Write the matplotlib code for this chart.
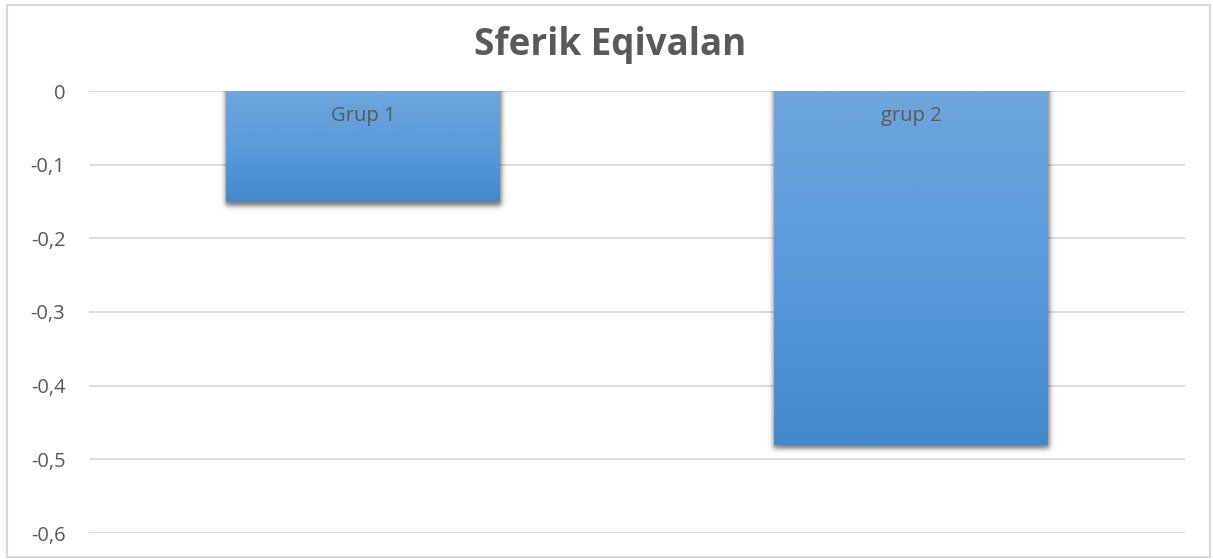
import numpy as np
import matplotlib
matplotlib.use("Agg")
import matplotlib.pyplot as plt
from matplotlib.patches import Rectangle
from matplotlib.colors import LinearSegmentedColormap
from matplotlib.ticker import FuncFormatter

# -----------------------------------
# Data
# -----------------------------------
groups = ["Grup 1", "grup 2"]
values = [-0.15, -0.48]
y_ticks = [0, -0.1, -0.2, -0.3, -0.4, -0.5, -0.6]

plt.rcParams["font.family"] = ["Open Sans", "DejaVu Sans"]

fig = plt.figure(figsize=(12.13, 5.59), dpi=100)
ax = fig.add_axes([89 / 1213, 26 / 559, 1096 / 1213, 442 / 559])

# outer chart frame
fig.patches.append(Rectangle((7 / 1213, 2 / 559), 1203 / 1213, 552 / 559,
                             transform=fig.transFigure, fill=False,
                             edgecolor="#d9d9d9", linewidth=1.5))

grad = LinearSegmentedColormap.from_list("bar", ["#6ea6dc", "#5a9bdc", "#4389ca"])
bar_w = 0.5

ax.set_xlim(-0.5, 1.5)
ax.set_ylim(-0.6, 0.0)

# data units per pixel
px_x = 2.0 / 1096
px_y = 0.6 / 442


def soft_box(coord, lo, hi, sigma):
    # smooth 0..1 ramp inside [lo, hi]
    return 0.25 * (1 + np.tanh((coord - lo) / sigma)) * (1 + np.tanh((hi - coord) / sigma))


for i, (name, v) in enumerate(zip(groups, values)):
    x0 = i - bar_w / 2
    x1 = x0 + bar_w

    # blurred drop shadow, offset slightly downwards
    sx0, sx1 = x0 - 10 * px_x, x1 + 10 * px_x
    sy0 = v - 14 * px_y
    xs = np.linspace(sx0, sx1, 300)
    ys = np.linspace(0, sy0, 300)
    ax_ = soft_box(xs, x0 - 1 * px_x, x1 + 2 * px_x, 3 * px_x)
    ay_ = soft_box(ys, v - 4 * px_y, 0.05, 3 * px_y)
    alpha = 0.55 * np.outer(ay_, ax_)
    shadow = np.zeros((300, 300, 4))
    shadow[..., 3] = alpha
    ax.imshow(shadow, extent=[sx0, sx1, sy0, 0], origin="upper", aspect="auto",
              zorder=1.5, interpolation="bilinear")

    rect = Rectangle((x0, 0), bar_w, v, facecolor="none", edgecolor="none", zorder=2)
    ax.add_patch(rect)
    img = ax.imshow(np.linspace(0, 1, 256).reshape(-1, 1), cmap=grad, aspect="auto",
                    extent=[x0, x1, v, 0], origin="upper", zorder=2)
    img.set_clip_path(rect)
    ax.text(i, -0.034, name, ha="center", va="center", fontsize=14.5,
            color="#595959", zorder=3)

ax.set_xlim(-0.5, 1.5)
ax.set_ylim(-0.6, 0.0)
ax.set_yticks(y_ticks)
ax.yaxis.set_major_formatter(FuncFormatter(lambda y, _: ("%g" % round(y, 2)).replace(".", ",")))
ax.set_xticks([])
ax.tick_params(axis="y", length=0, pad=17, labelsize=14.5, labelcolor="#595959")
ax.grid(axis="y", color="#d9d9d9", linewidth=1.3, zorder=0)
ax.set_axisbelow(True)
for s in ax.spines.values():
    s.set_visible(False)

fig.text(610 / 1213, 1 - 45 / 559, "Sferik Eqivalan", ha="center", va="center",
         fontsize=26.5, fontweight="bold", color="#595959")

fig.savefig("out.png", dpi=100)
plt.close(fig)
